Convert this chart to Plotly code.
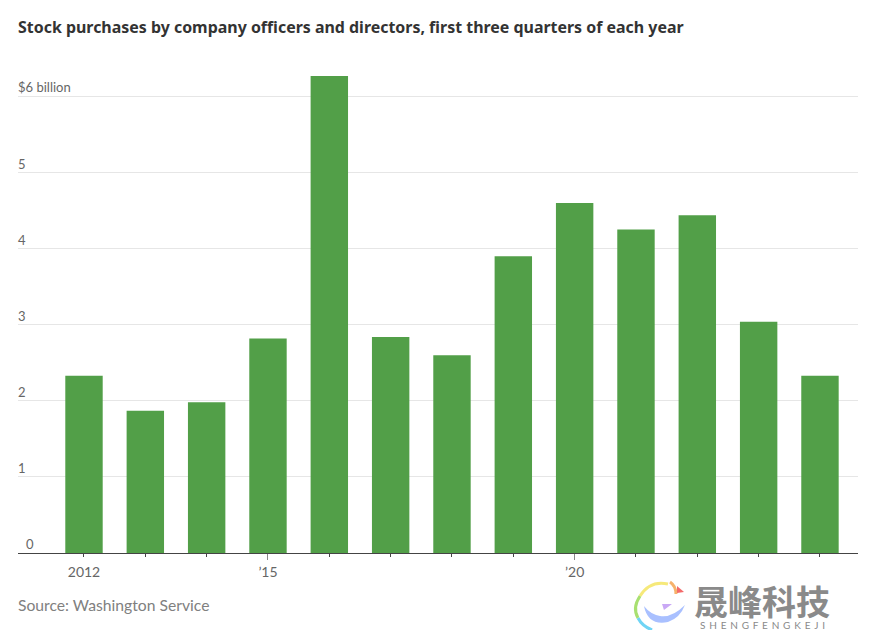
import plotly.graph_objects as go

years = list(range(2012, 2025))
purchases = [2.33, 1.87, 1.98, 2.82, 6.27, 2.84, 2.60, 3.90, 4.60, 4.25, 4.44, 3.04, 2.33]
y_ticks = [0, 1, 2, 3, 4, 5, 6]
y_labels = ["0", "1", "2", "3", "4", "5", "$6 billion"]
x_labels = {2012: "2012", 2015: "’15", 2020: "’20"}
long_ticks = [2015, 2020]
title = "Stock purchases by company officers and directors, first three quarters of each year"
source = "Source: Washington Service"
brand = "晟峰科技"
brand_latin = "SHENGFENGKEJI"

xr = [2010.924, 2024.62]
fig = go.Figure(go.Bar(x=years, y=purchases, width=0.61, marker=dict(color="#529f48", line_width=0),
                       hoverinfo="x+y"))
fig.update_layout(
    width=868, height=630, margin=dict(l=10, r=18, t=58, b=85),
    paper_bgcolor="white", plot_bgcolor="white", showlegend=False,
    font=dict(family="Lato", color="#666666"),
    xaxis=dict(range=xr, tickmode="array", tickvals=years,
               ticktext=[x_labels.get(v, "") for v in years],
               ticks="outside", ticklen=3, tickwidth=1, tickcolor="#444444", ticklabelstandoff=3,
               showgrid=False, zeroline=False, showline=True, linecolor="#444444", linewidth=1,
               tickfont=dict(family="Lato", size=14, color="#666666")),
    xaxis2=dict(range=xr, overlaying="x", anchor="y", side="bottom", tickmode="array",
                tickvals=long_ticks, ticktext=["", ""], ticks="outside", ticklen=6,
                tickwidth=1, tickcolor="#888888", showgrid=False, zeroline=False, showline=False),
    yaxis=dict(range=[0, 6.4], tickmode="array", tickvals=y_ticks, showticklabels=False,
               showgrid=True, gridcolor="#e6e6e6", gridwidth=1, zeroline=False),
)
fig.add_trace(go.Scatter(x=[], y=[], xaxis="x2", yaxis="y", showlegend=False))
for v, t in zip(y_ticks, y_labels):
    fig.add_annotation(xref="paper", yref="y", x=0, y=v, text=t, showarrow=False, xanchor="left",
                       yanchor="bottom", yshift=-1, xshift=-2 if v else 6,
                       font=dict(family="Lato", size=13, color="#666666"))
fig.add_annotation(xref="paper", yref="paper", x=0, y=1, yshift=39, xshift=-2, text="<b>" + title + "</b>",
                   showarrow=False, xanchor="left", yanchor="middle",
                   font=dict(family="Noto Sans", size=15.95, color="#333333"))
fig.add_annotation(xref="paper", yref="paper", x=0, y=0, yshift=-52, xshift=-2, text=source,
                   showarrow=False, xanchor="left", yanchor="middle",
                   font=dict(family="Lato", size=15.7, color="#808080"))
fig.add_annotation(xref="paper", yref="paper", x=0.9685, y=0, yshift=-47, text=f"<b>{brand}</b>",
                   showarrow=False, xanchor="right", yanchor="middle",
                   font=dict(family="Noto Sans CJK SC", size=34, color="#8a8a8a"))
fig.add_annotation(xref="paper", yref="paper", x=0.9685, y=0, yshift=-72, xshift=-5,
                   text=" \u2009".join(brand_latin),
                   showarrow=False, xanchor="right", yanchor="middle",
                   font=dict(family="Lato", size=10, color="#8a8a8a"))


# Watermark logo: decorative strokes given in page pixels, converted to paper coordinates.
def px(x, y):
    return f"{(x - 18) / 840:.4f} {(553 - y) / 487:.4f}"


def path(*cmds):
    return " ".join(f"{c} {' '.join(px(*p) for p in pts)}" for c, *pts in cmds)


strokes = [
    ("#f6e97a", [("M", (668, 584)), ("Q", (650, 580), (640, 596))]),
    ("#a8e070", [("M", (640, 596)), ("Q", (632, 608), (638, 618))]),
    ("#6fd4f5", [("M", (638, 618)), ("Q", (642, 626), (652, 630))]),
    ("#f6b26b", [("M", (670, 582)), ("Q", (676, 586), (676, 594))]),
]
for color, cmds in strokes:
    fig.add_shape(type="path", xref="paper", yref="paper", path=path(*cmds),
                  line=dict(color=color, width=3))
fills = [
    ("#a9c0ff", [("M", (644, 606)), ("Q", (648, 626), (668, 622)), ("Q", (680, 618), (685, 605)),
                 ("Q", (672, 618), (660, 616)), ("Q", (650, 614), (644, 606))]),
    ("#f46a6a", [("M", (677, 586)), ("L", (684, 592)), ("L", (677, 593))]),
    ("#c9a8f5", [("M", (662, 604)), ("L", (672, 604)), ("L", (664, 610))]),
]
for color, cmds in fills:
    fig.add_shape(type="path", xref="paper", yref="paper", path=path(*cmds) + " Z",
                  line_width=0, fillcolor=color)

fig.write_html("out.html")
